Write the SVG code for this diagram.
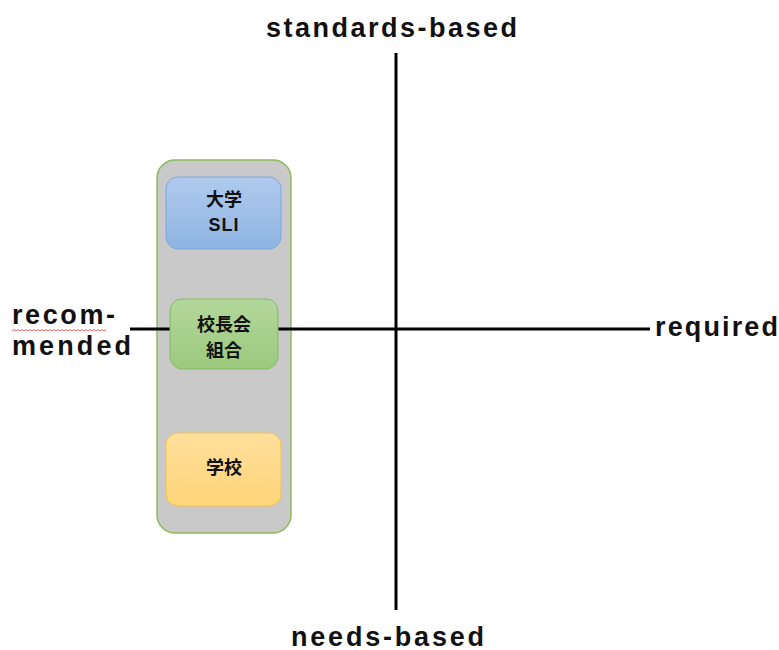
<svg xmlns="http://www.w3.org/2000/svg" width="779" height="650" viewBox="0 0 779 650">
<style>
.lbl{font-family:"Liberation Sans","Noto Sans CJK JP",sans-serif;font-weight:bold;font-size:27px;fill:#111;}
.nt{font-family:"Liberation Sans","Noto Sans CJK JP",sans-serif;font-weight:bold;font-size:18px;fill:#111;text-anchor:middle;}
.axis{stroke:#000;stroke-width:3;fill:none;}
</style>
<defs>
<linearGradient id="gb" x1="0" y1="0" x2="0" y2="1"><stop offset="0" stop-color="#b0cbee"/><stop offset="1" stop-color="#8eb3e2"/></linearGradient>
<linearGradient id="gg" x1="0" y1="0" x2="0" y2="1"><stop offset="0" stop-color="#b3d79b"/><stop offset="1" stop-color="#9cc97e"/></linearGradient>
<linearGradient id="gy" x1="0" y1="0" x2="0" y2="1"><stop offset="0" stop-color="#ffdf9c"/><stop offset="1" stop-color="#ffd57a"/></linearGradient>
</defs>
<rect width="779" height="650" fill="#fff"/>
<g id="container">
<rect x="157" y="160" width="134" height="373" rx="18" fill="#c9c9c9" stroke="#8dbb5e" stroke-width="1.5"/>
</g>
<g id="connectors">
<line class="axis" x1="396" y1="53" x2="396" y2="610"/>
<line class="axis" x1="130" y1="329" x2="650" y2="329"/>
</g>
<g id="node-daigaku">
<rect x="166" y="177" width="115" height="72" rx="12" fill="url(#gb)" stroke="#7ea8db" stroke-width="1"/>
<text class="nt" x="224" y="206">大学</text>
<text class="nt" x="224" y="231" letter-spacing="1">SLI</text>
</g>
<g id="node-kouchoukai">
<rect x="170" y="299" width="108" height="70" rx="12" fill="url(#gg)" stroke="#82bd62" stroke-width="1"/>
<text class="nt" x="224" y="331">校長会</text>
<text class="nt" x="224" y="357">組合</text>
</g>
<g id="node-gakkou">
<rect x="166" y="433" width="115" height="73" rx="12" fill="url(#gy)" stroke="#f3c34f" stroke-width="1"/>
<text class="nt" x="224" y="474">学校</text>
</g>
<g id="labels">
<text class="lbl" x="266" y="37" textLength="251" lengthAdjust="spacing">standards-based</text>
<text class="lbl" x="291" y="646" textLength="193" lengthAdjust="spacing">needs-based</text>
<text class="lbl" x="655" y="336" textLength="123" lengthAdjust="spacing">required</text>
<text class="lbl" x="12" y="324" textLength="103" lengthAdjust="spacing">recom-</text>
<text class="lbl" x="12" y="355" textLength="119" lengthAdjust="spacing">mended</text>
<path d="M12 331 l2 -1.5 l2 1.5 l2 -1.5 l2 1.5 l2 -1.5 l2 1.5 l2 -1.5 l2 1.5 l2 -1.5 l2 1.5 l2 -1.5 l2 1.5 l2 -1.5 l2 1.5 l2 -1.5 l2 1.5 l2 -1.5 l2 1.5 l2 -1.5 l2 1.5 l2 -1.5 l2 1.5 l2 -1.5 l2 1.5 l2 -1.5 l2 1.5 l2 -1.5 l2 1.5 l2 -1.5 l2 1.5 l2 -1.5 l2 1.5 l2 -1.5 l2 1.5 l2 -1.5 l2 1.5 l2 -1.5 l2 1.5 l2 -1.5 l2 1.5 l2 -1.5 l2 1.5 l2 -1.5 l2 1.5 l2 -1.5 l2 1.5 l2 -1.5" fill="none" stroke="#e33" stroke-width="0.8"/>
</g>
</svg>
